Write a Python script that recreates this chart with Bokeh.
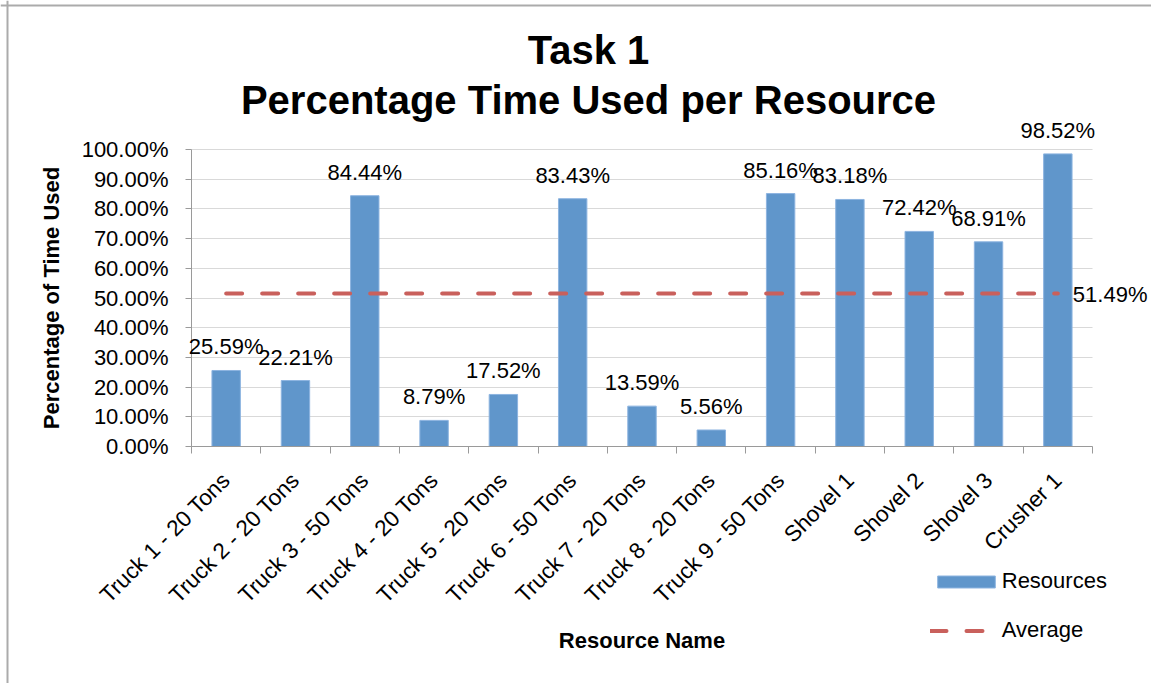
import math
from bokeh.plotting import figure
from bokeh.models import (ColumnDataSource, Range1d, FixedTicker, PrintfTickFormatter,
                          LabelSet, Label, Legend, LegendItem, Span)
from bokeh.embed import file_html
from bokeh.resources import INLINE
from bokeh.core.properties import value

# ---------------- data ----------------
categories = ["Truck 1 - 20 Tons", "Truck 2 - 20 Tons", "Truck 3 - 50 Tons",
              "Truck 4 - 20 Tons", "Truck 5 - 20 Tons", "Truck 6 - 50 Tons",
              "Truck 7 - 20 Tons", "Truck 8 - 20 Tons", "Truck 9 - 50 Tons",
              "Shovel 1", "Shovel 2", "Shovel 3", "Crusher 1"]
resources = [25.59, 22.21, 84.44, 8.79, 17.52, 83.43, 13.59, 5.56, 85.16,
             83.18, 72.42, 68.91, 98.52]
average_value = 51.49
y_ticks = [0, 10, 20, 30, 40, 50, 60, 70, 80, 90, 100]
title_lines = ["Task 1", "Percentage Time Used per Resource"]
series_names = ["Resources", "Average"]
x_title = "Resource Name"
y_title = "Percentage of Time Used"

# ---------------- layout / styling ----------------
FONT = "Liberation Sans"
BLUE = "#6096CB"
RED = "#C9605C"
GRID = "#D9D9D9"
AXIS = "#9A9A9A"
BORDER = "#ABABAB"

W, H = 1151, 683
LEFT = 191                 # pixel column of the y axis
ZERO_Y = 446               # pixel row of 0 %
PX_PER_CAT = 901 / 13      # category width in pixels
PX_PER_PCT = 297 / 100     # pixels per percentage point

n = len(categories)
x_pos = [i + 0.5 for i in range(n)]
boundaries = list(range(n + 1))

src = ColumnDataSource(dict(
    x=x_pos,
    v=resources,
    lbl=[f"{v:.2f}%" for v in resources],
    avg=[average_value] * n,
))

x_start = -LEFT / PX_PER_CAT
x_end = (W - LEFT) / PX_PER_CAT
y_start = -(H - ZERO_Y) / PX_PER_PCT
y_end = ZERO_Y / PX_PER_PCT

p = figure(width=W, height=H, x_range=Range1d(x_start, x_end), y_range=Range1d(y_start, y_end),
           output_backend="svg", toolbar_location=None)
p.title.visible = False
p.min_border_left = 0
p.min_border_right = 0
p.min_border_top = 0
p.min_border_bottom = 0
p.outline_line_color = None
p.background_fill_color = "white"
p.border_fill_color = "white"

# chart-area border (left and top edges visible in the reference)
p.add_layout(Span(location=7, location_units="screen", dimension="height",
                  line_color=BORDER, line_width=2))
p.add_layout(Span(location=H - 5, location_units="screen", dimension="width",
                  line_color=BORDER, line_width=2))

p.xgrid.visible = False
p.ygrid.ticker = FixedTicker(ticks=y_ticks)
p.ygrid.grid_line_color = GRID
p.ygrid.grid_line_width = 1
p.ygrid.bounds = (0, 100)
p.ygrid.cross_bounds = (0, n)

# y axis (drawn at x = 0)
ya = p.yaxis[0]
ya.fixed_location = 0
ya.ticker = FixedTicker(ticks=y_ticks)
ya.bounds = (0, 100)
ya.formatter = PrintfTickFormatter(format="%.2f%%")
ya.major_label_text_font = FONT
ya.major_label_text_font_size = "22px"
ya.major_label_text_color = "black"
ya.major_tick_out = 6
ya.major_tick_in = 0
ya.minor_tick_out = 0
ya.minor_tick_in = 0
ya.axis_line_color = AXIS
ya.major_tick_line_color = AXIS
ya.major_label_standoff = 17
ya.axis_label = y_title
ya.axis_label_text_font = FONT
ya.axis_label_text_font_style = "bold"
ya.axis_label_text_font_size = "22px"
ya.axis_label_text_color = "black"
ya.axis_label_standoff = 15

# x axis (drawn at y = 0; labels at category centres, ticks at category boundaries)
xa = p.xaxis[0]
xa.fixed_location = 0
xa.bounds = (0, n)
xa.ticker = FixedTicker(ticks=x_pos, minor_ticks=boundaries)
xa.major_label_overrides = {x: c for x, c in zip(x_pos, categories)}
xa.major_label_orientation = math.pi / 4
xa.major_label_text_font = FONT
xa.major_label_text_font_size = "22.5px"
xa.major_label_text_color = "black"
xa.major_tick_out = 0
xa.major_tick_in = 0
xa.minor_tick_out = 7
xa.minor_tick_in = 0
xa.minor_tick_line_color = AXIS
xa.axis_line_color = AXIS
xa.major_label_standoff = 23
xa.axis_label = x_title
xa.axis_label_text_font = FONT
xa.axis_label_text_font_style = "bold"
xa.axis_label_text_font_size = "22px"
xa.axis_label_text_color = "black"
xa.axis_label_standoff = 9

bars = p.vbar(x="x", top="v", bottom=0, width=0.41, source=src,
              fill_color=BLUE, line_color="#8DB4E0", line_width=1)
avg_line = p.line(x="x", y="avg", source=src, line_color=RED, line_width=4,
                  line_dash="16 20", line_cap="round")

labels = LabelSet(x="x", y="v", text="lbl", source=src, text_align="center",
                  text_baseline="alphabetic", y_offset=16,
                  text_font=value(FONT), text_font_size="22px", text_color="black")
p.add_layout(labels)

avg_label = Label(x=x_pos[-1], y=average_value, text=f"{average_value:.2f}%",
                  x_offset=15, y_offset=-1, text_align="left", text_baseline="middle",
                  text_font=FONT, text_font_size="22px", text_color="black")
p.add_layout(avg_label)

# title, centred over the whole chart area
TITLE_CX = 588
for txt, mid in zip(title_lines, [49, 99]):
    p.add_layout(Label(x=TITLE_CX, y=H - mid, x_units="screen", y_units="screen", text=txt,
                       text_align="center", text_baseline="middle",
                       text_font=FONT, text_font_style="bold", text_font_size="40px",
                       text_color="black"))

legend = Legend(items=[LegendItem(label=series_names[0], renderers=[bars]),
                       LegendItem(label=series_names[1], renderers=[avg_line])],
                location=(929.75, 40), orientation="vertical",
                glyph_width=72, glyph_height=15, label_standoff=0, spacing=23,
                padding=0, margin=0, border_line_color=None, background_fill_alpha=0,
                label_text_font=FONT, label_text_font_size="22px", label_text_color="black")
p.add_layout(legend)

open("out.html", "w").write(file_html(p, INLINE))
